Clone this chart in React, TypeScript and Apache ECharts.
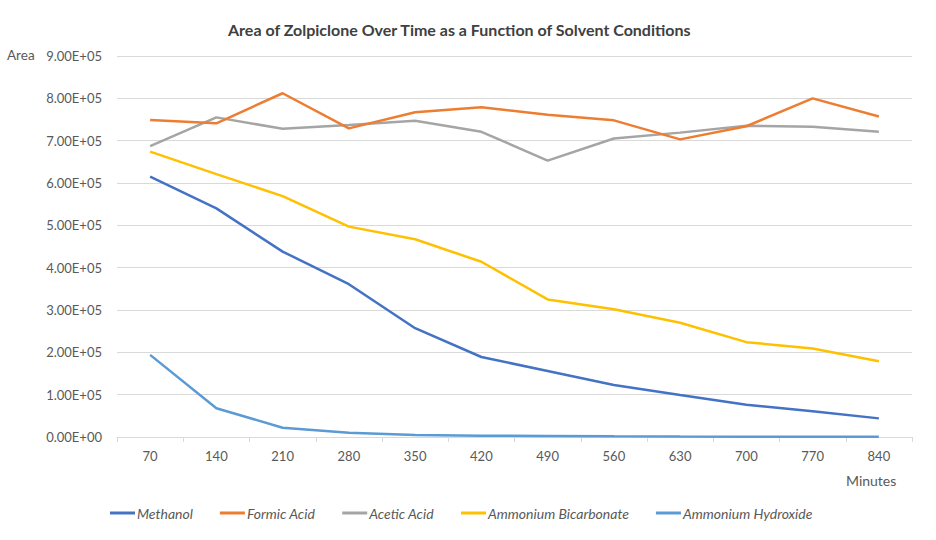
import React, { useEffect, useRef } from "react";
import * as echarts from "echarts";

const minutes = ["70", "140", "210", "280", "350", "420", "490", "560", "630", "700", "770", "840"];
const methanol = [615000, 540000, 438000, 361000, 257000, 189000, 156000, 123000, 99000, 76000, 61000, 44000];
const formicAcid = [749000, 741000, 812000, 729000, 767000, 779000, 761000, 748000, 703000, 734000, 800000, 757000];
const aceticAcid = [687000, 755000, 728000, 737000, 747000, 721000, 653000, 705000, 719000, 735000, 733000, 721000];
const ammoniumBicarbonate = [674000, 621000, 569000, 497000, 467000, 414000, 325000, 302000, 270000, 224000, 209000, 179000];
const ammoniumHydroxide = [194000, 68000, 22000, 10000, 5000, 3000, 2500, 1500, 1000, 800, 600, 500];

const seriesNames = ["Methanol", "Formic Acid", "Acetic Acid", "Ammonium Bicarbonate", "Ammonium Hydroxide"];
const seriesColors = ["#4472C4", "#ED7D31", "#A5A5A5", "#FFC000", "#5B9BD5"];
const seriesData = [methanol, formicAcid, aceticAcid, ammoniumBicarbonate, ammoniumHydroxide];

const FONT = "Lato, 'Noto Sans', sans-serif";

function sci(v: number): string {
  if (v === 0) return "0.00E+00";
  const s = v.toExponential(2);
  const [m, e] = s.split("e");
  const sign = e[0] === "-" ? "-" : "+";
  const digits = e.replace(/[+-]/, "").padStart(2, "0");
  return `${m}E${sign}${digits}`;
}

export default function App() {
  const ref = useRef<HTMLDivElement>(null);
  useEffect(() => {
    if (!ref.current) return;
    const chart = echarts.init(ref.current, null, { renderer: "svg" });
    chart.setOption({
      animation: false,
      backgroundColor: "#ffffff",
      textStyle: { fontFamily: FONT },
      title: {
        text: "Area of Zolpiclone Over Time as a Function of Solvent Conditions",
        left: 223,
        top: 16,
        textStyle: { fontSize: 16, fontWeight: "bold", color: "#404040", fontFamily: FONT },
      },
      grid: { left: 117, right: 24, top: 56, bottom: 103, containLabel: false },
      xAxis: {
        type: "category",
        data: minutes,
        boundaryGap: true,
        axisLine: { lineStyle: { color: "#d9d9d9", width: 1 } },
        axisTick: { show: true, interval: 0, length: 5, lineStyle: { color: "#d9d9d9" } },
        axisLabel: { color: "#595959", fontSize: 13, margin: 12, fontFamily: FONT },
        splitLine: { show: false },
      },
      yAxis: {
        type: "value",
        min: 0,
        max: 900000,
        interval: 100000,
        axisLine: { show: false },
        axisTick: { show: false },
        axisLabel: { color: "#595959", fontSize: 13, margin: 15, formatter: (v: number) => sci(v), fontFamily: FONT },
        splitLine: { lineStyle: { color: "#d9d9d9", width: 1 } },
      },
      legend: {
        top: 501,
        left: 105,
        itemWidth: 25,
        itemHeight: 3,
        itemGap: 27,
        icon: "rect",
        textStyle: { color: "#595959", fontSize: 14, fontStyle: "italic", fontFamily: FONT, padding: [0, 0, 0, -3] },
        data: seriesNames,
      },
      graphic: [
        {
          type: "text",
          left: 7,
          top: 48,
          style: { text: "Area", fill: "#595959", font: `13.5px ${FONT}` },
        },
        {
          type: "text",
          left: 846,
          top: 473,
          style: { text: "Minutes", fill: "#595959", font: `14px ${FONT}` },
        },
      ],
      series: seriesNames.map((name, i) => ({
        name,
        type: "line",
        data: seriesData[i],
        symbol: "none",
        showSymbol: false,
        lineStyle: { color: seriesColors[i], width: 2.5 },
        itemStyle: { color: seriesColors[i] },
        z: 10 - i,
      })),
    });
    return () => chart.dispose();
  }, []);
  return <div ref={ref} style={{ position: "fixed", left: 0, top: 0, width: 936, height: 540 }} />;
}
